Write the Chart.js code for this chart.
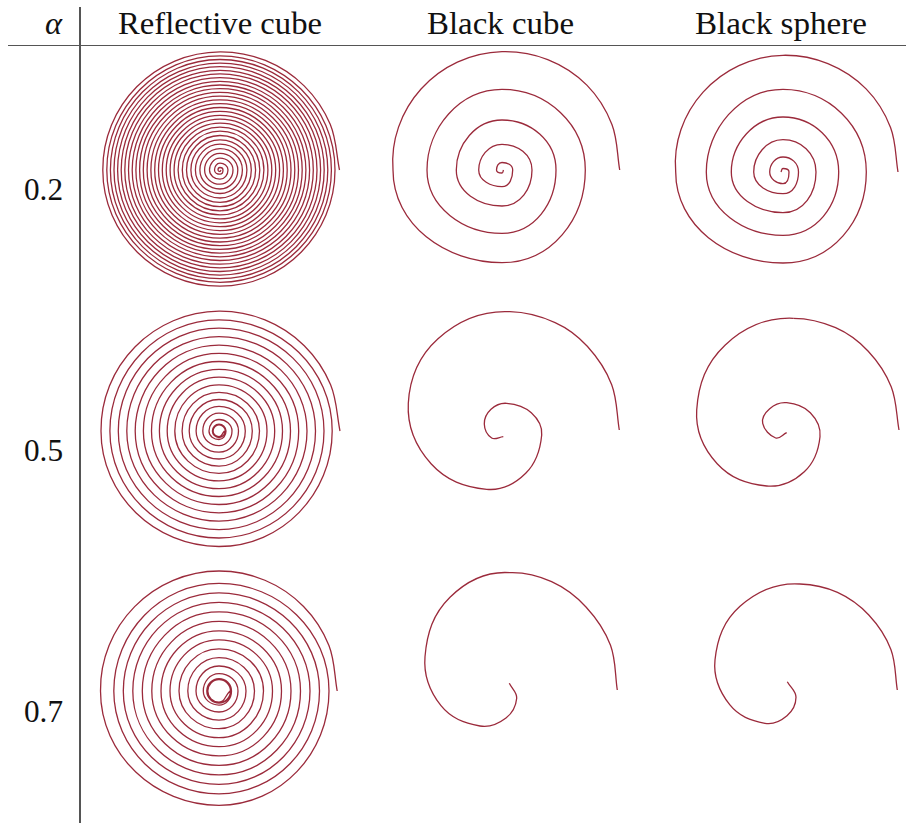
<!DOCTYPE html>
<html>
<head>
<meta charset="utf-8">
<title>Spirals</title>
<script src="https://cdn.jsdelivr.net/npm/chart.js@4.4.1/dist/chart.umd.min.js"></script>
<style>
  html, body { margin: 0; padding: 0; background: #fff; }
  #page { position: relative; width: 909px; height: 823px; overflow: hidden; }
  .lbl { position: absolute; white-space: nowrap; line-height: 1; font-family: "Liberation Serif", serif; color: #111; transform-origin: 0 0; }
  .rule { position: absolute; background: #555; }
  canvas.panel { position: absolute; }
</style>
</head>
<body>
<div id="page">
  <div class="rule" style="left:79.3px;top:7px;width:1.3px;height:816px"></div>
  <div class="rule" style="left:8px;top:44.6px;width:898px;height:1.2px"></div>
</div>
<script>
var headers = ['Reflective cube', 'Black cube', 'Black sphere'];
var alphas = ['0.2', '0.5', '0.7'];

// reflective cube: radius at every quarter turn, starting at angle 0 (right)
var refl02 = [1, 1.5, 2, 2.5,
  3, 4.2, 5.5, 6.8,  8, 9.2, 10.5, 11.8,  13, 14.2, 15.4, 16.6,
  17.8, 19, 20.1, 21.3,  22.4, 23.5, 24.6, 25.8,  26.9, 28, 29.1, 30.2,
  31.3, 32.4, 33.5, 34.5,  35.6, 36.7, 37.7, 38.8,  39.8, 40.8, 41.9, 42.9,
  43.9, 44.9, 45.9, 46.9,  47.9, 48.9, 49.9, 50.8,  51.8, 52.8, 53.8, 54.7,
  55.7, 56.7, 57.7, 58.6,  59.6, 60.6, 61.5, 62.5,  63.4, 64.4, 65.3, 66.3,
  67.2, 68.2, 69.1, 70.1,  71, 72, 72.9, 73.9,  74.8, 75.7, 76.7, 77.6,
  78.5, 79.4, 80.4, 81.3,  82.2, 83.1, 84.1, 85,  85.9, 86.8, 87.8, 88.7,
  89.6, 90.5, 91.5, 92.4,  93.3, 94.2, 95.2, 96.1,  97, 97.9, 98.8, 99.7,
  100.6, 101.5, 102.4, 103.3,  104.2, 105.1, 106, 106.9,  107.8, 108.7, 109.6, 110.5,
  111.4, 112.3, 113.2, 114.1,  115, 116.2, 117.2, 118.2];
var refl05 = [5.5, 5.7, 5.9, 6.1,  6.3, 6.5, 6.6, 6.8,  7, 8.5, 10, 11.5,
  13, 14.6, 16.2, 17.9,  19.5, 21.2, 22.9, 24.6,  26.3, 28, 29.8, 31.5,
  33.3, 35.1, 36.9, 38.7,  40.5, 42.4, 44.2, 46.1,  48, 49.9, 51.8, 53.8,
  55.7, 57.7, 59.6, 61.6,  63.5, 65.5, 67.5, 69.5,  71.5, 73.5, 75.6, 77.6,
  79.7, 81.8, 83.8, 85.9,  88, 90.1, 92.2, 94.4,  96.5, 98.6, 100.7, 102.9,
  105, 107, 109.1, 111.1,  113.2, 115.5, 118, 119.8];
var refl07 = [11, 11.1, 11.2, 11.4,  11.5, 11.6, 11.7, 11.9,  12, 12.1, 12.2, 12.4,
  12.5, 14.1, 15.7, 17.4,  19, 21, 23, 25,  27, 29.1, 31.2, 33.4,
  35.5, 37.7, 40, 42.2,  44.5, 46.7, 49, 51.2,  53.5, 55.7, 58, 60.2,
  62.5, 64.9, 67.2, 69.6,  72, 74.4, 76.7, 79.1,  81.5, 83.9, 86.2, 88.6,
  91, 93.4, 95.7, 98.1,  100.5, 102.9, 105.2, 107.6,  110, 114.3, 118.5, 120];

// black cube / sphere, alpha 0.2: radius at quarter turns
var cube02 = [1.5, 3, 5.5, 7.5, 10.7, 16.7, 23.3, 25.7, 30, 36, 45.7, 50,
  54, 63.3, 75, 80.7, 83.3, 92.7, 109, 118.3];
var sphere02 = [2, 3.5, 6, 11.7, 13.3, 15, 15.5, 21.7, 29.3, 32.3, 33, 40.7,
  51.7, 55, 55.7, 63.3, 76.7, 82.7, 83.3, 91, 107.3, 116.7];

// outer end of the quarter-turn spirals, every 22.5 deg up to the free end
var refl02End = [117.0, 117.2, 117.45, 117.7, 117.95, 118.2, 118.6, 119, 119.3, 119.5];
var refl05End = [117.4, 118, 118.5, 118.9, 119.35, 119.8, 120.2, 120.6, 120.8, 121];
var refl07End = [117.6, 118.5, 119, 119.3, 119.7, 120, 119.9, 119.6, 119, 118.2];
var cube02End = [105, 109, 112, 114.5, 116.7, 118.3, 119.5, 120, 119, 117.7];
var sphere02End = [103, 107.3, 110.5, 113, 115.2, 116.7, 117.3, 117.5, 116.4, 115];

// black cube / sphere, alpha 0.5 and 0.7: points along the curve (px from panel centre)
var cube05X = [-1.7, -13.3, -20.7, -14, 1.7, 26.3, 36.7, 20.7, -18.3, -73.7, -96.7, -67, 5, 82.3];
var cube05Y = [6.7, 8, -6, -20.7, -26.7, -17.3, 5, 43.3, 59.3, 34, -26.7, -91.3, -118.3, -83.7];
var cube05EndX = [-39.8, 5, 50.1, 82.3, 106.7, 114.3];
var cube05EndY = [-109.5, -118.3, -107.4, -83.7, -45.3, 0];
var sphere05X = [-3.3, -14.3, -27.3, -20.3, -3.3, 20.3, 30, 14.3, -23.3, -72.8, -93.3, -65, 3.3, 78];
var sphere05Y = [2.7, 8, -6.7, -21.3, -27.3, -17.3, 6.7, 41.7, 56, 33.7, -20, -84.8, -111.7, -79];
var sphere05EndX = [-38.9, 3.3, 45.6, 78, 101.3, 109];
var sphere05EndY = [-102.4, -111.7, -102.3, -79, -43, 0];
var cube07X = [-0.7, 6.7, -4, -30, -69, -85, -60, 0, 76];
var cube07Y = [-6.7, 8.3, 28, 36, 15.7, -33.3, -92.7, -117.3, -83];
var cube07EndX = [-43.8, 0, 41.6, 76, 100.5, 107.3];
var cube07EndY = [-105.8, -117.3, -108.3, -83, -44.7, 0];
var sphere07X = [-12.7, -4, -13, -35, -70.3, -85, -60, 0, 68.8];
var sphere07Y = [-8.3, 7.3, 25.7, 33.3, 14.7, -30, -83.7, -106, -75];
var sphere07EndX = [-32.4, 0, 37.5, 68.8, 90.9, 97.3];
var sphere07EndY = [-99.9, -106, -97.6, -75, -40.5, 0];

var LINE = '#9b2a3b';
var HALF = 140;
var page = document.getElementById('page');

function polarPts(rad, start, step) {
  return rad.map(function (r, i) {
    var a = (start + step * i) * Math.PI / 180;
    return {x: r * Math.cos(a), y: r * Math.sin(a)};
  });
}

function xy(xs, ys) {
  return xs.map(function (x, i) { return {x: x, y: ys[i]}; });
}

// hide = indexes of segment end points that should not be stroked
function lineSet(pts, tension, hide) {
  return {
    data: pts,
    showLine: true,
    borderColor: LINE,
    borderWidth: 1.3,
    pointRadius: 0,
    tension: tension,
    fill: false,
    segment: {
      borderColor: function (ctx) {
        return hide.indexOf(ctx.p1DataIndex) >= 0 ? 'rgba(0,0,0,0)' : undefined;
      }
    }
  };
}

// coarse body + finer end piece; the overlapping segments are hidden so each
// spline keeps even spacing and the free end stays round
function joined(body, end, tBody) {
  return [lineSet(body, tBody, [body.length - 1]), lineSet(end, 0.35, [1])];
}

function spiralSets(rad, start, end) {
  var m = rad.length - 1;
  var t0 = start + 90 * (m - 1) - 22.5;
  return joined(polarPts(rad, start, 90), polarPts(end, t0, 22.5), 0.55);
}

function addLabel(text, left, baseline, size, width, italic) {
  var el = document.createElement('div');
  el.className = 'lbl';
  el.textContent = text;
  el.style.fontSize = size + 'px';
  if (italic) el.style.fontStyle = 'italic';
  page.appendChild(el);
  var w = el.getBoundingClientRect().width;
  el.style.left = left + 'px';
  el.style.top = (baseline - 0.8375 * size) + 'px';
  el.style.transform = 'scaleX(' + (width / w) + ')';
}

function drawPanel(cx, cy, sets) {
  var c = document.createElement('canvas');
  c.className = 'panel';
  c.width = 2 * HALF;
  c.height = 2 * HALF;
  c.style.left = (cx - HALF) + 'px';
  c.style.top = (cy - HALF) + 'px';
  page.appendChild(c);
  new Chart(c, {
    type: 'scatter',
    data: {datasets: sets},
    options: {
      responsive: false,
      animation: false,
      events: [],
      layout: {padding: 0},
      plugins: {legend: {display: false}, tooltip: {enabled: false}},
      scales: {
        x: {type: 'linear', min: -HALF, max: HALF, display: false},
        y: {type: 'linear', min: -HALF, max: HALF, reverse: true, display: false}
      }
    }
  });
}

// text
addLabel('\u03b1', 45, 34, 31, 17, true);
var headLeft = [118, 427, 695], headWidth = [204, 147, 172];
headers.forEach(function (h, i) { addLabel(h, headLeft[i], 34, 31, headWidth[i], false); });
var rowBase = [200, 461, 722];
alphas.forEach(function (a, i) { addLabel(a, 24, rowBase[i], 31, 39, false); });

// spirals
drawPanel(220, 170, spiralSets(refl02, 0, refl02End));
drawPanel(501.7, 170, spiralSets(cube02, -360, cube02End));
drawPanel(783.3, 171.7, spiralSets(sphere02, -540, sphere02End));

drawPanel(219, 430.5, spiralSets(refl05, 0, refl05End));
drawPanel(505, 430, joined(xy(cube05X, cube05Y), xy(cube05EndX, cube05EndY), 0.4));
drawPanel(790, 430, joined(xy(sphere05X, sphere05Y), xy(sphere05EndX, sphere05EndY), 0.4));

drawPanel(218.5, 690.7, spiralSets(refl07, 0, refl07End));
drawPanel(510, 690, joined(xy(cube07X, cube07Y), xy(cube07EndX, cube07EndY), 0.4));
drawPanel(800, 690, joined(xy(sphere07X, sphere07Y), xy(sphere07EndX, sphere07EndY), 0.4));
</script>
</body>
</html>
